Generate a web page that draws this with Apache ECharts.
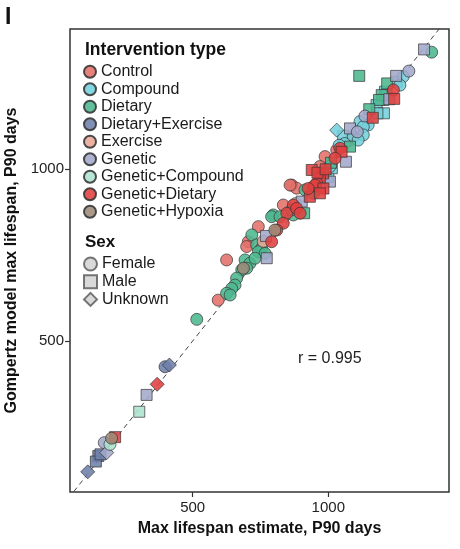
<!DOCTYPE html>
<html><head><meta charset="utf-8">
<script src="https://cdn.jsdelivr.net/npm/echarts@6/dist/echarts.min.js"></script>
<style>html,body{margin:0;padding:0;background:#fff}#c{width:460px;height:549px}</style>
</head><body><div id="c"></div>
<script>
// ---- data: [x = max lifespan estimate P90 days, y = Gompertz model max lifespan P90 days, sex] ----
const types = ['Control','Compound','Dietary','Dietary+Exercise','Exercise','Genetic','Genetic+Compound','Genetic+Dietary','Genetic+Hypoxia'];
const sexes = ['Female','Male','Unknown'];
const tickValues = [500, 1000];

const control = [
  [1080,1085,'F'],[1031,1056,'F'],[988,1037,'F'],[969,1008,'F'],[865,954,'F'],[883,945,'F'],
  [859,954,'F'],[834,896,'F'],[742,833,'F'],[705,789,'F'],[699,775,'F'],[625,736,'F'],[594,619,'F']
];
const compound = [
  [1252,1255,'M'],[1209,1226,'M'],[1203,1202,'M'],[1178,1187,'M'],[1205,1163,'M'],[1181,1163,'M'],
  [1055,1097,'M'],[1215,1216,'M'],[1000,978,'M'],[1013,1003,'M'],
  [1276,1270,'F'],[1264,1245,'F'],[1117,1139,'F'],[1147,1129,'F'],[1129,1124,'F'],[1092,1095,'F'],
  [1129,1100,'F'],[1006,1008,'F'],[1060,1075,'F'],[1110,1085,'F'],[1040,1070,'F'],
  [1031,1114,'U']
];
const dietary = [
  [1381,1341,'F'],[1114,1272,'M'],[1217,1250,'M'],[1197,1216,'M'],[1187,1202,'M'],[1151,1175,'M'],
  [1080,1066,'M'],[1010,1019,'M'],[914,940,'F'],[945,930,'F'],[871,867,'F'],[797,867,'F'],[911,872,'M'],
  [791,862,'F'],[822,862,'F'],[865,882,'F'],[718,809,'F'],[736,780,'F'],[754,770,'F'],[742,760,'F'],
  [767,755,'F'],[693,736,'F'],[711,726,'F'],[730,741,'F'],[699,712,'F'],[681,707,'F'],[662,683,'F'],
  [656,663,'F'],[644,653,'F'],[625,639,'F'],[638,634,'F'],[515,563,'F']
];
const dietaryExercise = [
  [398,425,'F'],[414,430,'U'],[152,165,'M'],[143,149,'M'],[113,119,'U'],[160,170,'M']
];
const exercise = [
  [760,790,'F'],[880,900,'F']
];
const genetic = [
  [1353,1349,'M'],[1297,1286,'F'],[1250,1272,'M'],[1225,1204,'M'],[1135,1155,'F'],[1080,1119,'M'],
  [1107,1109,'F'],[1065,1022,'M'],[1006,964,'M'],[902,906,'M'],[770,806,'M'],[773,741,'M'],
  [330,343,'M'],[174,204,'F'],[183,175,'U']
];
const geneticCompound = [
  [303,294,'M'],[195,199,'F']
];
const geneticDietary = [
  [1240,1231,'F'],[1243,1205,'M'],[1164,1150,'M'],[1043,1061,'F'],[1049,1051,'M'],[1025,1032,'F'],
  [939,998,'M'],[981,988,'M'],[969,974,'M'],[945,949,'F'],[957,959,'F'],[932,920,'M'],[871,896,'F'],
  [847,872,'F'],[883,886,'F'],[896,872,'F'],[834,843,'F'],[810,823,'F'],[791,789,'F'],[951,954,'F'],
  [926,944,'F'],[982,944,'M'],[969,930,'M'],[369,374,'U'],[214,220,'M'],[960,990,'M'],[990,1000,'M']
];
const geneticHypoxia = [
  [803,823,'F'],[687,712,'F'],[201,217,'F']
];
const identityLine = [[0,0],[1500,1500]];

// ---- styling ----
const seriesData = [control, compound, dietary, dietaryExercise, exercise, genetic, geneticCompound, geneticDietary, geneticHypoxia];
const colors = ['#E3706A','#74D0DC','#4DB78F','#6E7FAA','#E8A797','#A3A8CB','#AEE3CF','#E0403F','#9E8A78'];
const symbolFor = {F:'circle', M:'rect', U:'diamond'};
const sizeFor = {F:12, M:11, U:14};
const font = 'Liberation Sans, Arial, Helvetica, sans-serif';

const series = [{
  type:'line', data: identityLine, showSymbol:false, silent:true, z:1,
  lineStyle:{color:'#444', width:1, type:[5,4]}, clip:true
}];
types.forEach((t,i)=>{
  series.push({
    name:t, type:'scatter', z:2,
    itemStyle:{color:colors[i], borderColor:'#333', borderWidth:0.8, opacity:0.88},
    data: seriesData[i].map(d=>({value:[d[0],d[1]], symbol:symbolFor[d[2]], symbolSize:sizeFor[d[2]]}))
  });
});
const sexIcons = ['circle','rect','diamond'];
sexes.forEach((s,i)=>{
  series.push({name:s, type:'scatter', data:[], symbol:sexIcons[i],
    itemStyle:{color:'#cfcfcf', borderColor:'#555', borderWidth:0.8}});
});

const chart = echarts.init(document.getElementById('c'), null, {renderer:'canvas'});
chart.setOption({
  animation:false,
  backgroundColor:'#fff',
  textStyle:{fontFamily:font},
  grid:{left:70, right:11, top:29, bottom:57, show:true, borderColor:'#333', borderWidth:1.5,
        backgroundColor:'transparent', containLabel:false, outerBoundsMode:'none'},
  xAxis:{type:'value', min:47.6, max:1445,
    name:'Max lifespan estimate, P90 days', nameLocation:'middle', nameGap:29,
    nameTextStyle:{fontSize:16, fontWeight:'bold', color:'#111', fontFamily:font},
    axisLine:{show:false}, splitLine:{show:false},
    axisTick:{show:true, length:5, customValues:tickValues, lineStyle:{color:'#333', width:1.2}},
    axisLabel:{customValues:tickValues, formatter:v=>String(v), fontSize:15, color:'#222', margin:8, fontFamily:font}},
  yAxis:{type:'value', min:60.3, max:1408.5,
    name:'Gompertz model max lifespan, P90 days', nameLocation:'middle', nameGap:49,
    nameTextStyle:{fontSize:16, fontWeight:'bold', color:'#111', fontFamily:font},
    axisLine:{show:false}, splitLine:{show:false},
    axisTick:{show:true, length:5, customValues:tickValues, lineStyle:{color:'#333', width:1.2}},
    axisLabel:{customValues:tickValues, formatter:v=>String(v), fontSize:15, color:'#222', margin:6, fontFamily:font}},
  legend:[
    {data: types.map(t=>({name:t, icon:'circle'})), orient:'vertical', left:83, top:63.7,
     itemWidth:12, itemHeight:12, itemGap:1.5, padding:0, selectedMode:false,
     textStyle:{fontSize:16, color:'#1a1a1a', lineHeight:16, fontFamily:font}},
    {data: sexes.map((s,i)=>({name:s, icon:sexIcons[i]})), orient:'vertical', left:83, top:256,
     itemWidth:13, itemHeight:13, itemGap:1.7, padding:0, selectedMode:false,
     textStyle:{fontSize:16, color:'#1a1a1a', lineHeight:16, fontFamily:font}}
  ],
  graphic:[
    {type:'text', left:5, top:6, style:{text:'I', font:'bold 23px '+font, fill:'#111'}},
    {type:'text', left:85, top:41, style:{text:'Intervention type', font:'bold 17.5px '+font, fill:'#111'}},
    {type:'text', left:85, top:234, style:{text:'Sex', font:'bold 17px '+font, fill:'#111'}},
    {type:'text', left:298, top:351, style:{text:'r = 0.995', font:'16px '+font, fill:'#222'}}
  ],
  series: series
});
</script></body></html>
